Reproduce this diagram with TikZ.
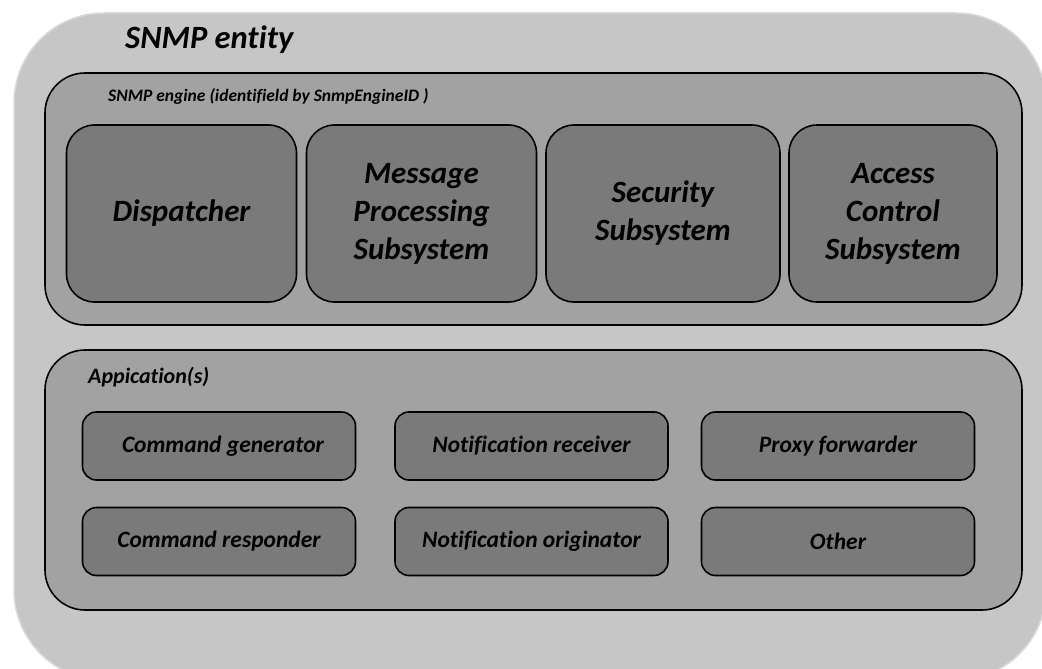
\documentclass[tikz,border=0pt]{standalone}
\usepackage{fontspec}
\setmainfont{Carlito}[Ligatures=NoCommon]
\begin{document}
\begin{tikzpicture}[x=1pt,y=-1pt,
  every node/.style={font=\bfseries\itshape},
  entitybox/.style={fill=outergray, draw=edgegray, line width=1.5pt, rounded corners=90pt},
  groupbox/.style={fill=midgray, draw=black, line width=1.6pt, rounded corners=40pt, inner sep=0pt},
  subbox/.style={fill=darkgray2, draw=black, line width=1.6pt, rounded corners=28pt, align=center,
    minimum width=230pt, minimum height=177pt, inner sep=0pt,
    font=\fontsize{31}{38}\selectfont\bfseries\itshape},
  appbox/.style={fill=darkgray2, draw=black, line width=1.6pt, rounded corners=14pt,
    minimum width=273pt, minimum height=68pt, inner sep=0pt,
    font=\fontsize{23.5}{26}\selectfont\bfseries\itshape},
  titletext/.style={anchor=west, inner sep=0pt}
]
\definecolor{outergray}{HTML}{C6C6C6}
\definecolor{edgegray}{HTML}{DADADA}
\definecolor{midgray}{HTML}{A2A2A2}
\definecolor{darkgray2}{HTML}{7A7A7A}
\useasboundingbox (0,0) rectangle (1042,669);
\fill[white] (0,0) rectangle (1042,669);
% outer entity
\draw[entitybox] (14,13) rectangle (1046,680);
\node[titletext, font=\fontsize{32.5}{36}\selectfont\bfseries\itshape] (entity) at (125,40) {SNMP entity};
% engine
\node[groupbox, minimum width=977pt, minimum height=252pt] (engine) at (533.5,199) {};
\node[titletext, font=\fontsize{17.5}{20}\selectfont\bfseries\itshape] (enginetitle) at (108,96) {SNMP engine (identifield by SnmpEngineID )};
\node[subbox] (disp) at (181.5,213.5) {Dispatcher};
\node[subbox] (mps) at (421.5,213.5) {Message\\Processing\\Subsystem};
\node[subbox, minimum width=234pt] (sec) at (663,213.5) {Security\\Subsystem};
\node[subbox, minimum width=208pt] (acs) at (893,213.5) {Access\\Control\\Subsystem};
% applications
\node[groupbox, minimum width=977pt, minimum height=260pt] (apps) at (533.5,480) {};
\node[titletext, font=\fontsize{22}{24}\selectfont\bfseries\itshape] (appstitle) at (88,377) {Appication(s)};
\node[appbox] (cg) at (219,446) {\hspace*{8pt}\raisebox{4pt}{Command generator}};
\node[appbox] (cr) at (219,541.5) {Command responder};
\node[appbox] (nr) at (531.5,446) {Notification receiver};
\node[appbox] (no) at (531.5,541.5) {Notification originator};
\node[appbox] (pf) at (838,446) {Proxy forwarder};
\node[appbox] (ot) at (838,541.5) {Other};
\end{tikzpicture}
\end{document}
